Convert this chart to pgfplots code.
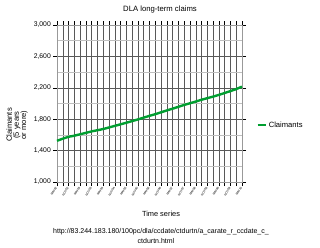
\documentclass[border=0pt]{standalone}
\usepackage{fontspec}
\setmainfont{Liberation Sans}
\usepackage{pgfplots}
\usepackage{pgfplotstable}
\pgfplotsset{compat=1.18}
\definecolor{claimgreen}{RGB}{0,158,48}
\pgfplotstableread{
q val
0 1525
1 1552
2 1576
3 1590
4 1608
5 1626
6 1645
7 1660
8 1675
9 1695
10 1715
11 1735
12 1755
13 1776
14 1797
15 1820
16 1843
17 1864
18 1888
19 1912
20 1934
21 1958
22 1982
23 2003
24 2025
25 2048
26 2068
27 2088
28 2110
29 2134
30 2158
31 2184
32 2215
}\claims
\begin{document}
\begin{tikzpicture}[x=1pt,y=1pt]
\path[use as bounding box] (0,0) rectangle (320,247);
\begin{axis}[
  at={(57pt,65pt)}, anchor=south west,
  width=185pt, height=157pt, scale only axis,
  xmin=0, xmax=32, ymin=1000, ymax=3000,
  xtick={0,...,32},
  xticklabels={MAY02,,NOV02,,MAY03,,NOV03,,MAY04,,NOV04,,MAY05,,NOV05,,MAY06,,NOV06,,MAY07,,NOV07,,MAY08,,NOV08,,MAY09,,NOV09,,MAY10},
  ytick={1000,1400,...,3000},
  minor ytick={1200,1600,...,2800},
  grid=both,
  major grid style={black!65, line width=0.5pt},
  minor grid style={black!25, line width=0.5pt},
  tick align=outside,
  major tick length=4pt,
  minor tick length=0pt,
  tick style={black, line width=0.5pt},
  axis line style={black!40, line width=0.5pt},
  /pgf/number format/assume math mode=true,
  /pgf/number format/1000 sep={,},
  yticklabel style={font=\fontsize{6.8}{7}\selectfont, inner sep=2pt},
  xticklabel style={font=\fontsize{3}{3.5}\selectfont, rotate=60, anchor=east, inner sep=1pt},
  legend style={at={(1.06,0.363)}, anchor=west, draw=none, fill=none,
    font=\fontsize{7.6}{8}\selectfont},
  legend image code/.code={\draw[#1, line width=2.5pt] (0pt,0pt) -- (8pt,0pt);},
  clip=false,
]
\addplot[claimgreen, line width=2.4pt, line join=round] table[x=q, y=val] {\claims};
\addlegendentry{Claimants}
\end{axis}
\node[font=\fontsize{7.7}{8}\selectfont] at (160,237) {DLA long-term claims};
\node[font=\fontsize{7.4}{8}\selectfont] at (161,33) {Time series};
\node[font=\fontsize{7}{8}\selectfont] at (161,15) {http://83.244.183.180/100pc/dla/ccdate/ctdurtn/a\_carate\_r\_ccdate\_c\_};
\node[font=\fontsize{7}{8}\selectfont] at (156,6) {ctdurtn.html};
\node[font=\fontsize{7.6}{7.2}\selectfont, rotate=90, align=center] at (17,122) {Claimants\\(5 years\\or more)};
\end{tikzpicture}
\end{document}
